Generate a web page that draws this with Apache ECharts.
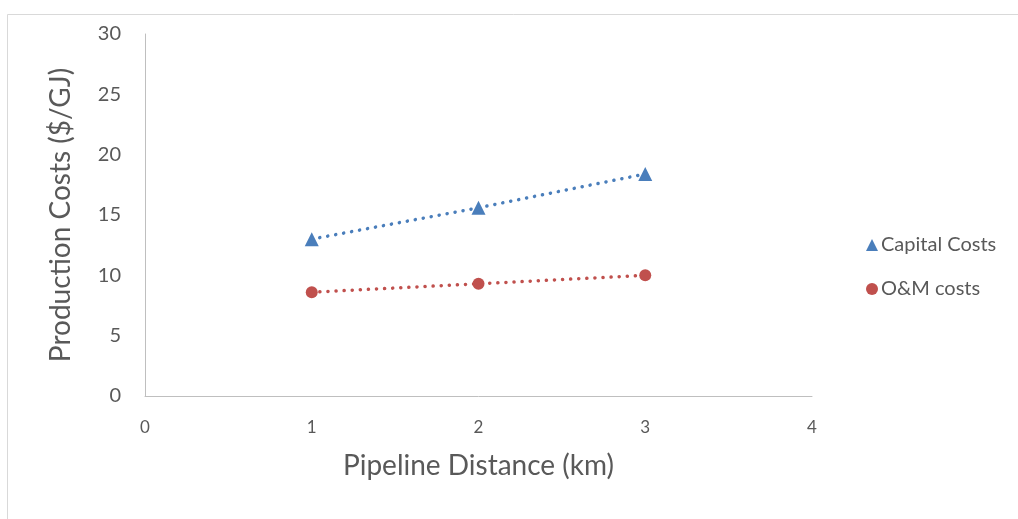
<!DOCTYPE html>
<html>
<head>
<meta charset="utf-8">
<script src="https://cdn.jsdelivr.net/npm/echarts@6/dist/echarts.min.js"></script>
<style>
  html, body { margin: 0; padding: 0; background: #fff; }
  #chart { width: 1018px; height: 519px; }
</style>
</head>
<body>
<div id="chart"></div>
<script>
// Pipeline distance (km) and the two cost components ($/GJ)
const distances = [1, 2, 3];
const capitalCosts = [13.0, 15.6, 18.4];
const omCosts = [8.6, 9.3, 10.0];
const yTicks = [0, 5, 10, 15, 20, 25, 30];
const xTicks = [0, 1, 2, 3, 4];

const seriesNames = ['Capital Costs', 'O&M costs'];
const seriesColors = ['#4A7EBB', '#C0504D'];

const font = 'Lato, "Open Sans", sans-serif';
const labelGray = '#595959';

const chart = echarts.init(document.getElementById('chart'), null, { renderer: 'canvas' });

function pairs(xs, ys) {
  return xs.map((x, i) => [x, ys[i]]);
}

chart.setOption({
  animation: false,
  backgroundColor: '#fff',
  graphic: [{
    type: 'rect',
    shape: { x: 7.5, y: 14.5, width: 1020, height: 520 },
    style: { fill: 'none', stroke: '#d9d9d9', lineWidth: 1 },
    silent: true
  }],
  grid: { left: 145, right: 206, top: 34, bottom: 123 },
  legend: {
    orient: 'vertical',
    left: 861,
    top: 230,
    itemGap: 24,
    itemWidth: 12,
    itemHeight: 12,
    textStyle: { fontFamily: font, fontSize: 20, color: labelGray, padding: [0, 0, 0, -2] },
    data: [
      { name: seriesNames[0], icon: 'triangle' },
      { name: seriesNames[1], icon: 'circle' }
    ]
  },
  xAxis: {
    type: 'value',
    min: xTicks[0],
    max: xTicks[xTicks.length - 1],
    interval: 1,
    name: 'Pipeline Distance (km)',
    nameLocation: 'middle',
    nameGap: 56,
    nameTextStyle: { fontFamily: font, fontSize: 28, color: labelGray },
    axisLine: { lineStyle: { color: '#bfbfbf', width: 1 } },
    axisTick: { show: false },
    splitLine: { show: false },
    axisLabel: { fontFamily: font, fontSize: 17, color: labelGray, margin: 23 }
  },
  yAxis: {
    type: 'value',
    min: yTicks[0],
    max: yTicks[yTicks.length - 1],
    interval: 5,
    name: 'Production Costs ($/GJ)',
    nameLocation: 'middle',
    nameGap: 70,
    nameTextStyle: { fontFamily: font, fontSize: 28, color: labelGray },
    axisLine: { show: true, lineStyle: { color: '#bfbfbf', width: 1 } },
    axisTick: { show: false },
    splitLine: { show: false },
    axisLabel: { fontFamily: font, fontSize: 20, color: labelGray, margin: 24 }
  },
  series: [
    {
      name: seriesNames[0],
      type: 'line',
      data: pairs(distances, capitalCosts),
      symbol: 'triangle',
      symbolSize: 14,
      itemStyle: { color: seriesColors[0] },
      lineStyle: { color: seriesColors[0], width: 3.5, type: [0.1, 8], cap: 'round' }
    },
    {
      name: seriesNames[1],
      type: 'line',
      data: pairs(distances, omCosts),
      symbol: 'circle',
      symbolSize: 12,
      itemStyle: { color: seriesColors[1] },
      lineStyle: { color: seriesColors[1], width: 3.5, type: [0.1, 8], cap: 'round' }
    }
  ]
});
</script>
</body>
</html>
